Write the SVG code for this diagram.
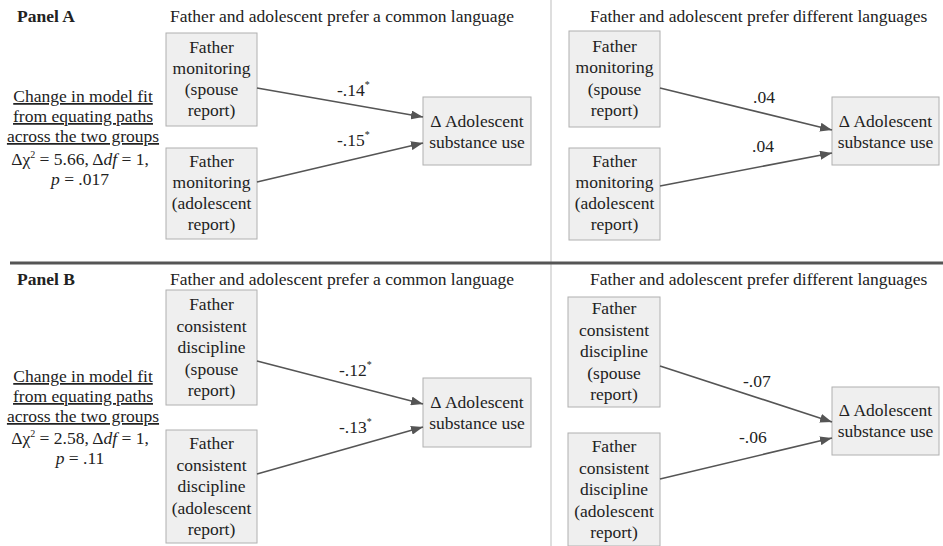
<svg xmlns="http://www.w3.org/2000/svg" width="943" height="546" viewBox="0 0 943 546">
<style>
text{font-family:"Liberation Serif","Times New Roman",serif;font-size:17.5px;fill:#222}
.c{text-anchor:middle}
.b{font-weight:bold}
.u{text-decoration:underline}
.box{fill:#efefef;stroke:#b0b0b0;stroke-width:1}
.arr{stroke:#555;stroke-width:1.6;fill:none;marker-end:url(#ah)}
.sup{font-size:10px}
</style>
<defs>
<marker id="ah" markerUnits="userSpaceOnUse" markerWidth="12" markerHeight="9" refX="12" refY="4.5" orient="auto">
<path d="M0,0 L12,4.5 L0,9 z" fill="#555"/>
</marker>
</defs>
<rect width="943" height="546" fill="#fff"/>
<g id="dividers">
<line x1="551" y1="0" x2="551" y2="546" stroke="#c8c8c8" stroke-width="1.2"/>
<line x1="10" y1="263" x2="943" y2="263" stroke="#555" stroke-width="3"/>
</g>
<g id="titles">
<text x="17" y="22" class="b">Panel A</text>
<text x="170" y="22">Father and adolescent prefer a common language</text>
<text x="590" y="22">Father and adolescent prefer different languages</text>
<text x="17" y="285" class="b">Panel B</text>
<text x="170" y="285">Father and adolescent prefer a common language</text>
<text x="590" y="285">Father and adolescent prefer different languages</text>
</g>
<g id="fitA">
<text x="83" y="102" class="c u">Change in model fit</text>
<text x="83" y="122" class="c u">from equating paths</text>
<text x="83" y="142" class="c u">across the two groups</text>
<text x="80" y="165" class="c">Δχ<tspan class="sup" dy="-7">2</tspan><tspan dy="7"> = 5.66, Δ</tspan><tspan font-style="italic">df</tspan> = 1,</text>
<text x="80" y="185" class="c"><tspan font-style="italic">p</tspan> = .017</text>
</g>
<g id="fitB">
<text x="83" y="382" class="c u">Change in model fit</text>
<text x="83" y="402" class="c u">from equating paths</text>
<text x="83" y="422" class="c u">across the two groups</text>
<text x="80" y="444" class="c">Δχ<tspan class="sup" dy="-7">2</tspan><tspan dy="7"> = 2.58, Δ</tspan><tspan font-style="italic">df</tspan> = 1,</text>
<text x="80" y="464" class="c"><tspan font-style="italic">p</tspan> = .11</text>
</g>
<g id="A_L_spouse">
<rect class="box" x="166" y="33" width="91" height="93"/>
<text class="c" x="211.5" y="53">Father</text>
<text class="c" x="211.5" y="74">monitoring</text>
<text class="c" x="211.5" y="95">(spouse</text>
<text class="c" x="211.5" y="116">report)</text>
</g>
<g id="A_L_adol">
<rect class="box" x="166" y="148" width="91" height="91"/>
<text class="c" x="211.5" y="167">Father</text>
<text class="c" x="211.5" y="188">monitoring</text>
<text class="c" x="211.5" y="209">(adolescent</text>
<text class="c" x="211.5" y="230">report)</text>
</g>
<g id="A_L_out">
<rect class="box" x="423" y="97" width="108" height="68"/>
<text class="c" x="477" y="127">Δ Adolescent</text>
<text class="c" x="477" y="148">substance use</text>
</g>
<g id="A_R_spouse">
<rect class="box" x="569" y="31" width="91" height="96"/>
<text class="c" x="614.5" y="52">Father</text>
<text class="c" x="614.5" y="73">monitoring</text>
<text class="c" x="614.5" y="95">(spouse</text>
<text class="c" x="614.5" y="116">report)</text>
</g>
<g id="A_R_adol">
<rect class="box" x="569" y="148" width="91" height="92"/>
<text class="c" x="614.5" y="167">Father</text>
<text class="c" x="614.5" y="188">monitoring</text>
<text class="c" x="614.5" y="209">(adolescent</text>
<text class="c" x="614.5" y="230">report)</text>
</g>
<g id="A_R_out">
<rect class="box" x="832" y="97" width="107" height="68"/>
<text class="c" x="885.5" y="127">Δ Adolescent</text>
<text class="c" x="885.5" y="148">substance use</text>
</g>
<g id="B_L_spouse">
<rect class="box" x="166" y="290" width="91" height="115"/>
<text class="c" x="211.5" y="310">Father</text>
<text class="c" x="211.5" y="331.5">consistent</text>
<text class="c" x="211.5" y="353">discipline</text>
<text class="c" x="211.5" y="374.5">(spouse</text>
<text class="c" x="211.5" y="396">report)</text>
</g>
<g id="B_L_adol">
<rect class="box" x="166" y="430" width="91" height="113"/>
<text class="c" x="211.5" y="449">Father</text>
<text class="c" x="211.5" y="470.5">consistent</text>
<text class="c" x="211.5" y="492">discipline</text>
<text class="c" x="211.5" y="513.5">(adolescent</text>
<text class="c" x="211.5" y="535">report)</text>
</g>
<g id="B_L_out">
<rect class="box" x="423" y="378" width="108" height="69"/>
<text class="c" x="477" y="408">Δ Adolescent</text>
<text class="c" x="477" y="429">substance use</text>
</g>
<g id="B_R_spouse">
<rect class="box" x="568" y="297" width="92" height="110"/>
<text class="c" x="614" y="314">Father</text>
<text class="c" x="614" y="335.5">consistent</text>
<text class="c" x="614" y="357">discipline</text>
<text class="c" x="614" y="378.5">(spouse</text>
<text class="c" x="614" y="400">report)</text>
</g>
<g id="B_R_adol">
<rect class="box" x="568" y="433" width="92" height="113"/>
<text class="c" x="614" y="452">Father</text>
<text class="c" x="614" y="473.5">consistent</text>
<text class="c" x="614" y="495">discipline</text>
<text class="c" x="614" y="516.5">(adolescent</text>
<text class="c" x="614" y="538">report)</text>
</g>
<g id="B_R_out">
<rect class="box" x="832" y="387" width="107" height="68"/>
<text class="c" x="885.5" y="416">Δ Adolescent</text>
<text class="c" x="885.5" y="437">substance use</text>
</g>
<g id="connectors">
<line class="arr" x1="257" y1="88" x2="423" y2="117"/>
<line class="arr" x1="257" y1="182" x2="423" y2="143"/>
<line class="arr" x1="660" y1="88" x2="832" y2="130"/>
<line class="arr" x1="660" y1="186" x2="832" y2="153"/>
<line class="arr" x1="257" y1="361" x2="423" y2="404"/>
<line class="arr" x1="257" y1="474" x2="423" y2="427"/>
<line class="arr" x1="660" y1="366" x2="832" y2="422"/>
<line class="arr" x1="660" y1="479" x2="832" y2="438"/>
</g>
<g id="labels">
<text x="337" y="96">-.14<tspan class="sup" dy="-8">*</tspan></text>
<text x="337" y="146">-.15<tspan class="sup" dy="-8">*</tspan></text>
<text x="753" y="103">.04</text>
<text x="752" y="152">.04</text>
<text x="339" y="376">-.12<tspan class="sup" dy="-8">*</tspan></text>
<text x="339" y="433">-.13<tspan class="sup" dy="-8">*</tspan></text>
<text x="743" y="387">-.07</text>
<text x="739" y="443">-.06</text>
</g>
</svg>
